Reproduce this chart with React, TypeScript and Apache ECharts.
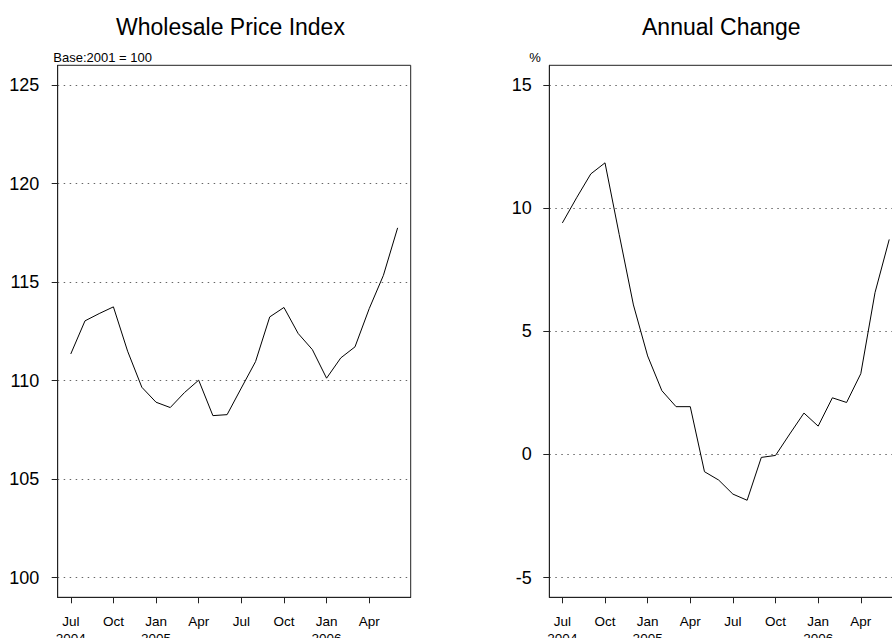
import React, { useEffect, useRef } from "react";
import * as echarts from "echarts";

const months = [
  "2004-07", "2004-08", "2004-09", "2004-10", "2004-11", "2004-12",
  "2005-01", "2005-02", "2005-03", "2005-04", "2005-05", "2005-06",
  "2005-07", "2005-08", "2005-09", "2005-10", "2005-11", "2005-12",
  "2006-01", "2006-02", "2006-03", "2006-04", "2006-05", "2006-06",
];

const wpi = [
  111.35, 113.03, 113.4, 113.74, 111.49, 109.66, 108.9, 108.63, 109.39, 110.02, 108.22, 108.27,
  109.62, 110.96, 113.23, 113.71, 112.39, 111.57, 110.12, 111.15, 111.71, 113.65, 115.34, 117.75,
];

const annualChange = [
  9.4, 10.42, 11.39, 11.84, 8.93, 6.07, 4.0, 2.59, 1.94, 1.94, -0.7, -1.04,
  -1.61, -1.86, -0.12, -0.04, 0.83, 1.68, 1.15, 2.3, 2.11, 3.28, 6.57, 8.73,
];

const tickMonths = ["2004-07", "2004-10", "2005-01", "2005-04", "2005-07", "2005-10", "2006-01", "2006-04"];
const tickLabels = ["Jul\n2004", "Oct", "Jan\n2005", "Apr", "Jul", "Oct", "Jan\n2006", "Apr"];

const wpiTicks = [100, 105, 110, 115, 120, 125];
const changeTicks = [-5, 0, 5, 10, 15];

const FONT = "'Liberation Sans', Arial, Helvetica, sans-serif";

export default function App() {
  const ref = useRef<HTMLDivElement>(null);

  useEffect(() => {
    if (!ref.current) return;
    const chart = echarts.init(ref.current, undefined, { renderer: "svg" });

    const tickPos = tickMonths.map((m) => months.indexOf(m));
    const labelFor = (v: number) => {
      const i = tickPos.indexOf(Math.round(v));
      return i >= 0 ? tickLabels[i] : "";
    };

    const boxColor = "#222";
    const xPad = 0.92;

    const makeX = (gridIndex: number) => ({
      type: "value",
      gridIndex,
      min: -xPad,
      max: months.length - 1 + xPad,
      axisLine: { show: true, onZero: false, lineStyle: { color: boxColor, width: 1 } },
      axisTick: { show: true, length: 6, customValues: tickPos, lineStyle: { color: boxColor, width: 1 } },
      axisLabel: {
        customValues: tickPos,
        formatter: (v: number) => labelFor(v),
        fontSize: 13.5,
        lineHeight: 16.5,
        margin: 16,
        color: "#000",
        fontFamily: FONT,
      },
      splitLine: { show: false },
    });

    const makeY = (gridIndex: number, min: number, max: number, ticks: number[], margin: number) => ({
      type: "value",
      gridIndex,
      min,
      max,
      axisLine: { show: true, onZero: false, lineStyle: { color: boxColor, width: 1 } },
      axisTick: { show: true, length: 6, customValues: ticks, lineStyle: { color: boxColor, width: 1 } },
      axisLabel: {
        customValues: ticks,
        fontSize: 18,
        margin,
        color: "#000",
        fontFamily: FONT,
      },
      splitLine: { show: true, lineStyle: { color: "#666", width: 1, type: [1.5, 4.5] } },
    });

    chart.setOption({
      animation: false,
      backgroundColor: "#fff",
      textStyle: { fontFamily: FONT },
      grid: [
        { left: 57.7, top: 65.3, width: 353, height: 532, show: true, borderColor: boxColor, borderWidth: 1, containLabel: false, outerBoundsMode: "none" },
        { left: 549.3, top: 65.3, width: 353, height: 532, show: true, borderColor: boxColor, borderWidth: 1, containLabel: false, outerBoundsMode: "none" },
      ],
      xAxis: [makeX(0), makeX(1)],
      yAxis: [makeY(0, 99, 126, wpiTicks, 18.5), makeY(1, -5.8, 15.8, changeTicks, 17.5)],
      graphic: [
        { type: "text", x: 230.5, y: 26.5, style: { text: "Wholesale Price Index", font: `23px ${FONT}`, fill: "#000", align: "center", verticalAlign: "middle" } },
        { type: "text", x: 721.3, y: 26.5, style: { text: "Annual Change", font: `23px ${FONT}`, fill: "#000", align: "center", verticalAlign: "middle" } },
        { type: "text", x: 53.3, y: 57.5, style: { text: "Base:2001 = 100", font: `13px ${FONT}`, fill: "#000", align: "left", verticalAlign: "middle" } },
        { type: "text", x: 535, y: 57.5, style: { text: "%", font: `13px ${FONT}`, fill: "#000", align: "center", verticalAlign: "middle" } },
      ],
      series: [
        {
          type: "line",
          xAxisIndex: 0,
          yAxisIndex: 0,
          data: wpi.map((v, i) => [i, v]),
          showSymbol: false,
          lineStyle: { color: "#000", width: 1 },
          silent: true,
        },
        {
          type: "line",
          xAxisIndex: 1,
          yAxisIndex: 1,
          data: annualChange.map((v, i) => [i, v]),
          showSymbol: false,
          lineStyle: { color: "#000", width: 1 },
          silent: true,
        },
      ],
    });

    return () => chart.dispose();
  }, []);

  return (
    <div
      ref={ref}
      style={{ position: "fixed", left: 0, top: 0, width: 892, height: 638, background: "#fff" }}
    />
  );
}
